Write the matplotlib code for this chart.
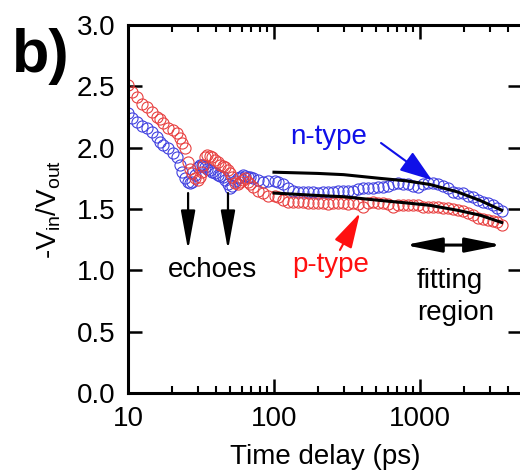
import matplotlib
matplotlib.use("Agg")
import matplotlib.pyplot as plt
from matplotlib.ticker import LogLocator, NullFormatter, MultipleLocator

plt.rcParams['font.family'] = ['Liberation Sans', 'DejaVu Sans']
plt.rcParams['mathtext.default'] = 'regular'

# time delay (ps), common sampling for both series
time_ps = [10.0, 10.65, 11.5, 12.5, 13.5, 14.6, 15.8, 16.6, 17.4, 18.8, 20.3, 21.7,
           22.7, 23.4, 24.6, 25.8, 26.6, 27.4, 28.8, 30.2, 31.1, 32.1, 32.6, 33.7,
           34.8, 36.4, 37.6, 39.4, 41.3, 42.7, 44.7, 46.2, 48.4, 50.0, 51.6, 54.1,
           56.7, 58.5, 61.3, 63.3, 66.4, 68.5, 71.8, 77.7, 84.1, 91.0, 101.6, 106.5,
           115, 125, 135, 146, 158, 171, 185, 200, 217, 234, 254, 274, 297, 321,
           348, 376, 407, 440, 477, 516, 558, 604, 653, 707, 765, 828, 896, 969,
           1048, 1134, 1227, 1328, 1437, 1555, 1683, 1821, 1970, 2132, 2307, 2497,
           2701, 2923, 3162, 3370, 3645]

p_type = [2.51, 2.45, 2.41, 2.36, 2.33, 2.29, 2.25, 2.23, 2.20, 2.16, 2.14, 2.12,
          2.08, 2.04, 2.00, 1.88, 1.83, 1.79, 1.75, 1.74, 1.76, 1.80, 1.86, 1.92,
          1.94, 1.93, 1.92, 1.90, 1.88, 1.86, 1.85, 1.84, 1.82, 1.79, 1.76, 1.71,
          1.70, 1.72, 1.74, 1.75, 1.72, 1.70, 1.68, 1.65, 1.63, 1.61, 1.61, 1.60,
          1.57, 1.56, 1.56, 1.56, 1.56, 1.55, 1.55, 1.55, 1.55, 1.54, 1.55, 1.55,
          1.55, 1.54, 1.55, 1.54, 1.52, 1.55, 1.56, 1.55, 1.55, 1.54, 1.52, 1.53,
          1.53, 1.53, 1.53, 1.53, 1.52, 1.52, 1.52, 1.52, 1.51, 1.51, 1.50, 1.49,
          1.48, 1.47, 1.45, 1.43, 1.42, 1.41, 1.40, 1.39, 1.37]

n_type = [2.28, 2.24, 2.21, 2.18, 2.16, 2.13, 2.09, 2.05, 2.02, 2.00, 1.96, 1.92,
          1.86, 1.80, 1.75, 1.72, 1.71, 1.72, 1.78, 1.84, 1.86, 1.86, 1.85, 1.84,
          1.83, 1.82, 1.80, 1.79, 1.78, 1.77, 1.76, 1.74, 1.70, 1.67, 1.69, 1.73,
          1.75, 1.76, 1.78, 1.77, 1.76, 1.76, 1.75, 1.74, 1.72, 1.73, 1.73, 1.72,
          1.70, 1.67, 1.65, 1.64, 1.64, 1.64, 1.64, 1.63, 1.64, 1.64, 1.64, 1.65,
          1.65, 1.65, 1.65, 1.66, 1.67, 1.67, 1.67, 1.68, 1.68, 1.69, 1.70, 1.71,
          1.70, 1.70, 1.69, 1.68, 1.70, 1.71, 1.71, 1.70, 1.69, 1.67, 1.64, 1.63,
          1.63, 1.61, 1.60, 1.57, 1.56, 1.55, 1.53, 1.51, 1.48]

# fits in the fitting region
fit_t = [100, 200, 300, 530, 800, 1170, 1800, 2575, 3630]
fit_n = [1.80, 1.79, 1.78, 1.75, 1.73, 1.70, 1.64, 1.57, 1.49]
fit_p = [1.63, 1.61, 1.60, 1.57, 1.55, 1.53, 1.49, 1.45, 1.39]

fig = plt.figure(figsize=(5.2, 4.75), dpi=100)
ax = fig.add_axes([128/520, 82/475, 394/520, 368/475])

ax.plot(time_ps, n_type, 'o', mfc='none', mec='#4040e0', ms=8, mew=0.8)
ax.plot(time_ps, p_type, 'o', mfc='none', mec='#e84040', ms=8, mew=0.8)
ax.plot(fit_t, fit_n, '-', color='black', lw=2.2)
ax.plot(fit_t, fit_p, '-', color='black', lw=2.2)

ax.set_xscale('log')
ax.set_xlim(10, 5000)
ax.set_ylim(0, 3.0)
ax.yaxis.set_major_locator(MultipleLocator(0.5))
ax.xaxis.set_minor_locator(LogLocator(base=10, subs=range(2, 10)))
ax.xaxis.set_minor_formatter(NullFormatter())
ax.set_xticks([10, 100, 1000])
ax.set_xticklabels(['10', '100', '1000'])

for s in ax.spines.values():
    s.set_linewidth(2.2)
ax.tick_params(which='both', direction='in', top=True, right=True, labelsize=20)
ax.tick_params(which='major', length=10, width=1.8, pad=9)
ax.tick_params(which='minor', length=5, width=1.5)

ax.set_xlabel('Time delay (ps)', fontsize=20, labelpad=9)
ax.set_ylabel('-V$_{in}$/V$_{out}$', fontsize=20, labelpad=10)

fig.text(12/520, 1 - 72/475, 'b)', fontsize=44, fontweight='bold', va='baseline')

# annotations
ax.text(238, 2.09, 'n-type', color='#1010e8', fontsize=20, ha='center', va='center')
ax.annotate('', xy=(1208, 1.736), xytext=(541, 2.038),
            arrowprops=dict(arrowstyle='-|>,head_length=1.0,head_width=0.35',
                            mutation_scale=20, color='#1010e8', lw=1.5,
                            shrinkA=0, shrinkB=0))
ax.text(245, 1.04, 'p-type', color='#ff1010', fontsize=20, ha='center', va='center')
ax.annotate('', xy=(388, 1.467), xytext=(283, 1.166),
            arrowprops=dict(arrowstyle='-|>,head_length=1.1,head_width=0.3',
                            mutation_scale=20, color='#ff1010', lw=1.5,
                            shrinkA=0, shrinkB=0))
for tx in [25.8, 48.4]:
    ax.annotate('', xy=(tx, 1.166), xytext=(tx, 1.63),
                arrowprops=dict(arrowstyle='-|>,head_length=1.2,head_width=0.22',
                                mutation_scale=20, color='black', lw=1.6,
                                shrinkA=0, shrinkB=0))
ax.text(38.2, 1.0, 'echoes', color='black', fontsize=20, ha='center', va='center')
ax.annotate('', xy=(3645, 1.206), xytext=(789, 1.206),
            arrowprops=dict(arrowstyle='<|-|>,head_length=1.1,head_width=0.22',
                            mutation_scale=20, color='black', lw=2.2,
                            shrinkA=0, shrinkB=0))
ax.text(953, 0.78, 'fitting\nregion', color='black', fontsize=20, ha='left',
        va='center', linespacing=1.3)

fig.savefig('out.png', dpi=100)
